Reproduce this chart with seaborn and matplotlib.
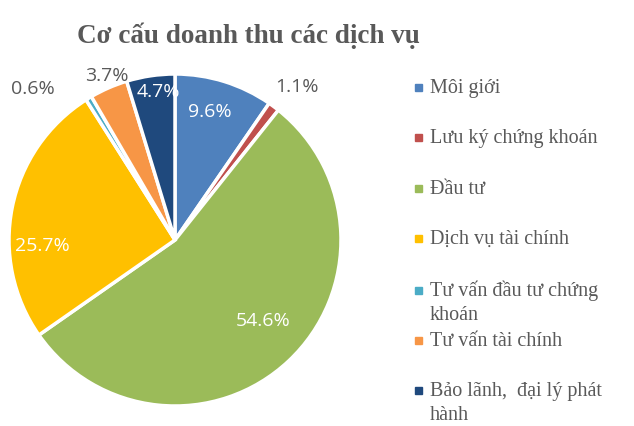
import matplotlib.pyplot as plt
import seaborn as sns
import numpy as np
from matplotlib.patches import Rectangle

categories = ['Môi giới', 'Lưu ký chứng khoán', 'Đầu tư', 'Dịch vụ tài chính',
              'Tư vấn đầu tư chứng\nkhoán', 'Tư vấn tài chính', 'Bảo lãnh,  đại lý phát\nhành']
shares = [9.6, 1.1, 54.6, 25.7, 0.6, 3.7, 4.7]
colors = ['#4F81BD', '#C0504D', '#9BBB59', '#FFC000', '#4BACC6', '#F79646', '#1F497D']

# label placement: radius factor, angle tweak (deg), inside?
lab_r = [0.80, 1.18, 0.72, 0.80, 1.25, 1.07, 0.90]
lab_da = [-2, 2, -4, -14, -12, 1, 2]
inside = [True, False, True, True, False, False, True]

sns.set_theme(style='white')
grey = '#595959'

W, H = 634, 426
fig = plt.figure(figsize=(W / 100, H / 100), dpi=100)
cx, cy, R = 175, 240, 166
ax = fig.add_axes([(cx - R) / W, (H - cy - R) / H, 2 * R / W, 2 * R / H])

wedges, _ = ax.pie(shares, colors=colors, startangle=90, counterclock=False,
                   wedgeprops=dict(edgecolor='white', linewidth=2.5))
ax.set_aspect('equal')
ax.set_xlim(-1, 1)
ax.set_ylim(-1, 1)

cum = np.cumsum([0] + shares[:-1])
for i, v in enumerate(shares):
    ang = np.deg2rad((cum[i] + v / 2) / 100 * 360 + lab_da[i])
    x = lab_r[i] * np.sin(ang)
    y = lab_r[i] * np.cos(ang)
    ax.text(x, y, f'{v}%', ha='center', va='center', fontsize=14,
            family='Open Sans', color='white' if inside[i] else grey, clip_on=False)

fig.text(248 / W, 1 - 36 / H, 'Cơ cấu doanh thu các dịch vụ', ha='center', va='center',
         fontsize=19.5, fontweight='bold', family='Liberation Serif', color=grey)

# legend
leg_y = [87, 137, 188, 238, 290, 340, 390]
for lab, col, yc in zip(categories, colors, leg_y):
    fig.add_artist(Rectangle((415 / W, 1 - (yc + 3.5) / H), 7 / W, 7 / H,
                             transform=fig.transFigure, color=col))
    for k, line in enumerate(lab.split('\n')):
        fig.text(430 / W, 1 - (yc + 6 + 24 * k) / H, line, ha='left', va='baseline',
                 fontsize=14.5, family='Liberation Serif', color=grey)

fig.savefig('out.png', dpi=100)
